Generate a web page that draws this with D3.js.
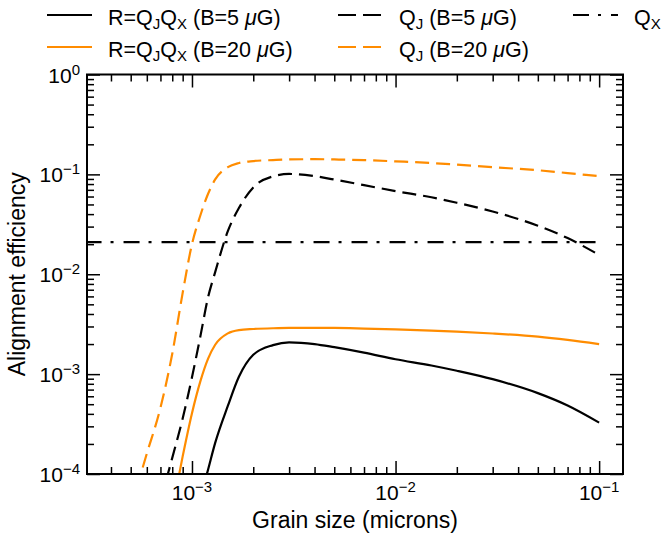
<!DOCTYPE html>
<html>
<head>
<meta charset="utf-8">
<title>Alignment efficiency</title>
<script src="https://d3js.org/d3.v7.min.js"></script>
<style>
  body { margin: 0; background: #fff; }
  svg { display: block; font-family: "Liberation Sans", Arial, sans-serif; }
</style>
</head>
<body>
<svg width="664" height="536"></svg>
<script>
// grain sizes (microns) and curves
var grainSize = [3e-4, 4e-4, 5e-4, 6e-4, 7e-4, 8e-4, 9e-4, 1e-3, 1.1e-3, 1.2e-3, 1.3e-3, 1.5e-3, 1.7e-3,
                 2e-3, 2.5e-3, 3e-3, 4e-3, 5e-3, 7e-3, 1e-2, 1.5e-2, 2e-2, 3e-2, 5e-2, 7e-2, 1e-1];
var qX   = [0.021, 0.021, 0.021, 0.021, 0.021, 0.021, 0.021, 0.021, 0.021, 0.021, 0.021, 0.021, 0.021,
            0.021, 0.021, 0.021, 0.021, 0.021, 0.021, 0.021, 0.021, 0.021, 0.021, 0.021, 0.021, 0.021];
var qJ5  = [null, null, null, null, 5.4e-5, 1.45e-4, 3.6e-4, 9.3e-4, 2.4e-3, 5.9e-3, 0.0105, 0.027, 0.046,
            0.074, 0.0955, 0.101, 0.096, 0.0887, 0.078, 0.068, 0.059, 0.052, 0.0425, 0.0306, 0.023, 0.0156];
var qJ20 = [null, null, 4.6e-5, 1.6e-4, 4.6e-4, 1.6e-3, 6.5e-3, 0.020, 0.039, 0.064, 0.089, 0.118, 0.130,
            0.136, 0.139, 0.141, 0.142, 0.141, 0.139, 0.135, 0.130, 0.125, 0.118, 0.110, 0.103, 0.096];
var r5   = [null, null, null, null, null, null, null, 2e-5, 5.7e-5, 1.11e-4, 2.05e-4, 4.8e-4, 9.4e-4,
            1.56e-3, 1.95e-3, 2.08e-3, 2.0e-3, 1.86e-3, 1.64e-3, 1.41e-3, 1.22e-3, 1.08e-3, 8.9e-4, 6.45e-4, 4.85e-4, 3.27e-4];
var r20  = [null, null, null, null, null, 4.4e-5, 1.5e-4, 4.06e-4, 8.5e-4, 1.43e-3, 1.97e-3, 2.56e-3, 2.76e-3,
            2.83e-3, 2.88e-3, 2.9e-3, 2.9e-3, 2.9e-3, 2.86e-3, 2.8e-3, 2.72e-3, 2.66e-3, 2.55e-3, 2.37e-3, 2.2e-3, 2.0e-3];

var xMajor = [1e-3, 1e-2, 1e-1];
var yMajor = [1, 1e-1, 1e-2, 1e-3, 1e-4];

var orange = "#ff8c00";
var series = [
  {name: "qX",   values: qX,   color: "#000", dash: "16,9,3,10"},
  {name: "qJ5",  values: qJ5,  color: "#000", dash: "14,7"},
  {name: "qJ20", values: qJ20, color: orange, dash: "14,7"},
  {name: "r5",   values: r5,   color: "#000", dash: null},
  {name: "r20",  values: r20,  color: orange, dash: null}
];

var svg = d3.select("svg");
var pL = 87, pR = 623, pT = 74.5, pB = 474;

var x = d3.scaleLog().domain([3.05e-4, 0.131]).range([pL, pR]);
var y = d3.scaleLog().domain([1e-4, 1]).range([pB, pT]);

function minors(lo, hi) {
  var out = [];
  for (var e = Math.floor(Math.log10(lo)); e <= Math.ceil(Math.log10(hi)); e++)
    for (var m = 2; m <= 9; m++) {
      var v = m * Math.pow(10, e);
      if (v >= lo && v <= hi) out.push(v);
    }
  return out;
}

function addAxis(gen, tx, ty, vals, size) {
  var g = svg.append("g").attr("transform", "translate(" + tx + "," + ty + ")")
    .call(gen.tickValues(vals).tickSize(-size).tickSizeOuter(0).tickFormat(""));
  g.select(".domain").remove();
  g.selectAll("line").attr("stroke", "#000").attr("stroke-width", 1.5);
}

var xMin = minors(x.domain()[0], x.domain()[1]);
var yMin = minors(1e-4, 1);
addAxis(d3.axisBottom(x), 0, pB, xMajor, 13);
addAxis(d3.axisBottom(x), 0, pB, xMin, 7);
addAxis(d3.axisTop(x), 0, pT, xMajor, 13);
addAxis(d3.axisTop(x), 0, pT, xMin, 7);
addAxis(d3.axisLeft(y), pL, 0, yMajor, 13);
addAxis(d3.axisLeft(y), pL, 0, yMin, 7);
addAxis(d3.axisRight(y), pR, 0, yMajor, 13);
addAxis(d3.axisRight(y), pR, 0, yMin, 7);

svg.append("clipPath").attr("id", "plot")
  .append("rect").attr("x", pL).attr("y", pT).attr("width", pR - pL).attr("height", pB - pT);

var line = d3.line()
  .defined(function (d) { return d[1] != null; })
  .x(function (d) { return x(d[0]); })
  .y(function (d) { return y(d[1]); })
  .curve(d3.curveMonotoneX);

svg.append("g").attr("clip-path", "url(#plot)")
  .selectAll("path").data(series).enter().append("path")
  .attr("d", function (s) { return line(grainSize.map(function (g, i) { return [g, s.values[i]]; })); })
  .attr("fill", "none")
  .attr("stroke", function (s) { return s.color; })
  .attr("stroke-width", 2.2)
  .attr("stroke-dasharray", function (s) { return s.dash; });

svg.append("rect").attr("x", pL).attr("y", pT).attr("width", pR - pL).attr("height", pB - pT)
  .attr("fill", "none").attr("stroke", "#000").attr("stroke-width", 2);

// tick labels as 10^n
function powLabel(t, n) {
  t.append("tspan").text("10");
  t.append("tspan").attr("dy", -8).attr("font-size", 15).text(n < 0 ? "\u2212" + (-n) : n);
}
xMajor.forEach(function (v) {
  var t = svg.append("text").attr("x", x(v)).attr("y", 500).attr("text-anchor", "middle").attr("font-size", 21);
  powLabel(t, Math.round(Math.log10(v)));
});
yMajor.forEach(function (v) {
  var t = svg.append("text").attr("x", 80).attr("y", y(v) + 8).attr("text-anchor", "end").attr("font-size", 21);
  powLabel(t, Math.round(Math.log10(v)));
});

svg.append("text").attr("x", (pL + pR) / 2).attr("y", 528).attr("text-anchor", "middle")
  .attr("font-size", 23).text("Grain size (microns)");
svg.append("text").attr("transform", "translate(25," + ((pT + pB) / 2) + ") rotate(-90)")
  .attr("text-anchor", "middle").attr("font-size", 23).text("Alignment efficiency");

// legend
var legend = [
  {x: 47,  row: 0, color: "#000", dash: null,        label: ["R", "J", "X", "5"]},
  {x: 338, row: 0, color: "#000", dash: "18,7",      label: ["Q", "J", null, "5"]},
  {x: 573, row: 0, color: "#000", dash: "16,9,3,10", label: ["Q", "X", null, null]},
  {x: 47,  row: 1, color: orange, dash: null,        label: ["R", "J", "X", "20"]},
  {x: 338, row: 1, color: orange, dash: "18,7",      label: ["Q", "J", null, "20"]}
];
legend.forEach(function (d) {
  var ly = 15 + d.row * 32;
  svg.append("line").attr("x1", d.x).attr("x2", d.x + 45).attr("y1", ly).attr("y2", ly)
    .attr("stroke", d.color).attr("stroke-width", 2.2).attr("stroke-dasharray", d.dash);
  var t = svg.append("text").attr("x", d.x + 61).attr("y", ly + 10).attr("font-size", 21.5);
  if (d.label[0] === "R") {
    t.append("tspan").text("R=Q");
    t.append("tspan").attr("font-size", 15).attr("dy", 4).text("J");
    t.append("tspan").attr("dy", -4).text("Q");
    t.append("tspan").attr("font-size", 15).attr("dy", 4).text("X");
  } else {
    t.append("tspan").text("Q");
    t.append("tspan").attr("font-size", 15).attr("dy", 4).text(d.label[1]);
  }
  if (d.label[3]) {
    t.append("tspan").attr("dy", -4).text(" (B=" + d.label[3] + " ");
    t.append("tspan").attr("font-style", "italic").text("\u03bc");
    t.append("tspan").text("G)");
  }
});
</script>
</body>
</html>
